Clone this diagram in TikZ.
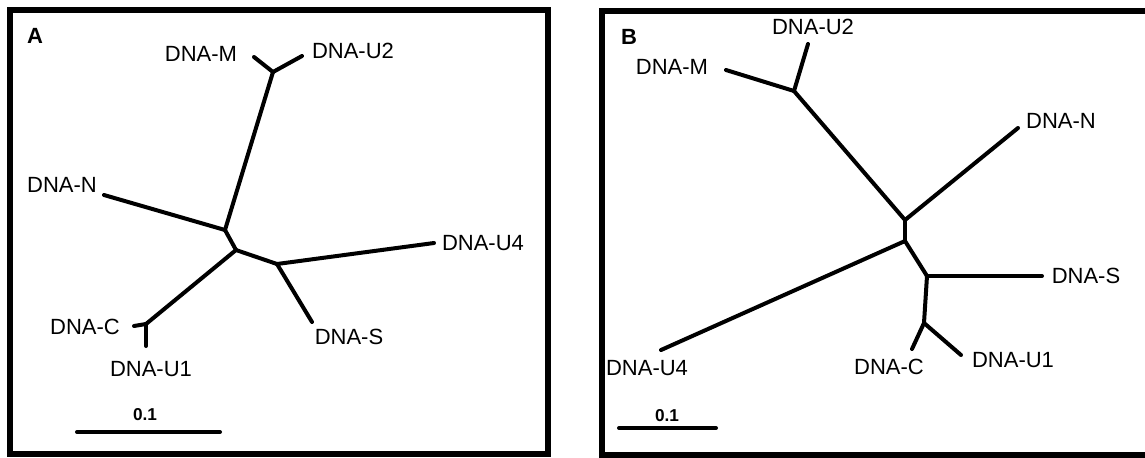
\documentclass[tikz,border=0pt]{standalone}
\usepackage{fontspec}
\setmainfont{Liberation Sans}
\begin{document}
\begin{tikzpicture}[x=0.5pt,y=-0.5pt,
    branch/.style={line width=2pt,line cap=round},
    panelbox/.style={line width=3pt},
    taxon/.style={inner sep=0pt,font=\fontsize{11}{13}\selectfont},
    panel/.style={inner sep=0pt,font=\fontsize{11}{13}\selectfont\bfseries},
    scalelabel/.style={inner sep=0pt,font=\fontsize{8.6}{10}\selectfont\bfseries}]
     \useasboundingbox (0,0) rectangle (1145,457);
     % tree A
     \draw[panelbox] (10,10) rectangle (548,454);
     \node[panel] at (35,36) (labA) {A};
     \node[taxon] at (201,54) (am) {DNA-M};
     \node[taxon] at (353,51) (au2) {DNA-U2};
     \node[taxon] at (62,185) (an) {DNA-N};
     \node[taxon] at (483,243) (au4) {DNA-U4};
     \node[taxon] at (85,327) (ac) {DNA-C};
     \node[taxon] at (349,337) (as) {DNA-S};
     \node[taxon] at (151,369) (au1) {DNA-U1};
     \node[scalelabel] at (145,415) (sa) {0.1};
     \coordinate (am0) at (254,57);
     \coordinate (au20) at (302,56);
     \coordinate (amu) at (273,72);
     \coordinate (anj) at (225,230);
     \coordinate (an0) at (104,195);
     \coordinate (amid) at (236,250);
     \coordinate (asu) at (277,264);
     \coordinate (au40) at (434,243);
     \coordinate (as0) at (312,322);
     \coordinate (acu) at (146,324);
     \coordinate (ac0) at (134,326);
     \coordinate (au10) at (146,346);
     \coordinate (sa0) at (77,432);
     \coordinate (sa1) at (220,432);
     \path[branch] (amu) edge (am0)
              (amu) edge (au20)
              (amu) edge (anj)
              (anj) edge (an0)
              (anj) edge (amid)
              (amid) edge (acu)
              (acu) edge (ac0)
              (acu) edge (au10)
              (amid) edge (asu)
              (asu) edge (au40)
              (asu) edge (as0)
              (sa0) edge (sa1);
     % tree B
     \draw[panelbox] (601.5,10.5) rectangle (1152,454.5);
     \node[panel] at (629,37) (labB) {B};
     \node[taxon] at (813,27) (bu2) {DNA-U2};
     \node[taxon] at (672,67) (bm) {DNA-M};
     \node[taxon] at (1061,121) (bn) {DNA-N};
     \node[taxon] at (1086,276) (bs) {DNA-S};
     \node[taxon] at (1013,360) (bu1) {DNA-U1};
     \node[taxon] at (889,367) (bc) {DNA-C};
     \node[taxon] at (647,368) (bu4) {DNA-U4};
     \node[scalelabel] at (667,415.5) (sb) {0.1};
     \coordinate (bu20) at (808,44);
     \coordinate (bm0) at (726,70);
     \coordinate (bmu) at (794,91);
     \coordinate (bup) at (905,220);
     \coordinate (bn0) at (1018,128);
     \coordinate (blo) at (905,241);
     \coordinate (bu40) at (661,350);
     \coordinate (bsj) at (927,276);
     \coordinate (bs0) at (1042,276);
     \coordinate (bcu) at (924,323);
     \coordinate (bc0) at (912,349);
     \coordinate (bu10) at (961,355);
     \coordinate (sb0) at (619,428);
     \coordinate (sb1) at (716,428);
     \path[branch] (bmu) edge (bu20)
              (bmu) edge (bm0)
              (bmu) edge (bup)
              (bup) edge (bn0)
              (bup) edge (blo)
              (blo) edge (bu40)
              (blo) edge (bsj)
              (bsj) edge (bs0)
              (bsj) edge (bcu)
              (bcu) edge (bc0)
              (bcu) edge (bu10)
              (sb0) edge (sb1);
\end{tikzpicture}
\end{document}
